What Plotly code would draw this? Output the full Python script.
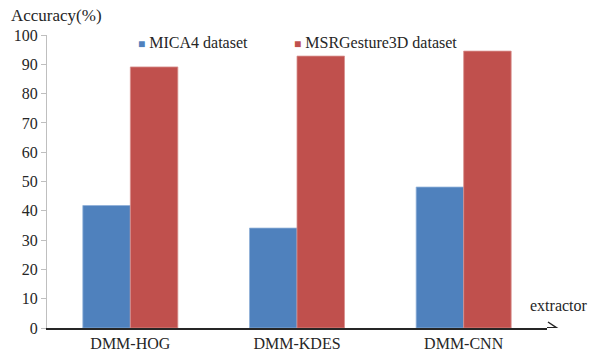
import plotly.graph_objects as go

categories = ["DMM-HOG", "DMM-KDES", "DMM-CNN"]
mica4 = [41.8, 34.1, 48.1]
msr3d = [89.1, 92.8, 94.5]
series_names = ["MICA4 dataset", "MSRGesture3D dataset"]
y_ticks = [0, 10, 20, 30, 40, 50, 60, 70, 80, 90, 100]

BLUE = "#4F81BD"
RED = "#C0504D"
FONT = "Liberation Serif"

W, H = 591, 352
L, R, T, B = 47, 44, 35, 24
plot_w = W - L - R
plot_h = H - T - B

fig = go.Figure()
fig.add_bar(x=categories, y=mica4, name=series_names[0], marker_color=BLUE,
            marker_line=dict(color="#8fb0d8", width=0.8))
fig.add_bar(x=categories, y=msr3d, name=series_names[1], marker_color=RED,
            marker_line=dict(color="#d8908e", width=0.8))

fig.update_layout(
    width=W, height=H,
    margin=dict(l=L, r=R, t=T, b=B, autoexpand=False),
    paper_bgcolor="white", plot_bgcolor="white",
    barmode="group", bargap=0.43, bargroupgap=0,
    showlegend=False,
    font=dict(family=FONT, size=16, color="#262626"),
)
fig.update_xaxes(
    showline=True, linecolor="#262626", linewidth=2,
    showgrid=False, ticks="", tickfont=dict(size=16), automargin=False,
    range=[-0.5, 2.5],
)
fig.update_yaxes(
    range=[0, 100], tickvals=y_ticks, showgrid=False, zeroline=False,
    showline=True, linecolor="#bfbfbf", linewidth=1,
    ticks="outside", ticklen=5, tickcolor="#bfbfbf",
    tickfont=dict(size=16), automargin=False,
)

# axis arrow past the last category
tip = 1 + 10 / plot_w
arm_x = tip - 9 / plot_w
arm_y = 6 * 100 / plot_h
fig.add_shape(type="line", xref="paper", yref="y", x0=1, x1=tip, y0=0, y1=0,
              line=dict(color="#262626", width=2))
fig.add_shape(type="path", xref="paper", yref="y",
              path=f"M {arm_x} {arm_y} L {tip} 0 L {arm_x} {-arm_y}",
              line=dict(color="#262626", width=1.5))

# axis titles
fig.add_annotation(text="Accuracy(%)", xref="paper", yref="paper",
                   x=(9 - L) / plot_w, y=1 + 20 / plot_h, xanchor="left", yanchor="middle",
                   showarrow=False, font=dict(size=17))
fig.add_annotation(text="extractor", xref="paper", yref="paper",
                   x=(590 - L) / plot_w, y=(328 - 305) / plot_h, xanchor="right", yanchor="middle",
                   showarrow=False, font=dict(size=16))

# legend entries
for name, color, px in [(series_names[0], BLUE, 136), (series_names[1], RED, 292)]:
    fig.add_annotation(
        text=f"<span style='color:{color};font-size:12px'>■</span> {name}",
        xref="paper", yref="paper", x=(px - L) / plot_w, y=1 - 7 / plot_h,
        xanchor="left", yanchor="middle", showarrow=False, font=dict(size=16),
    )

fig.write_html("out.html")
